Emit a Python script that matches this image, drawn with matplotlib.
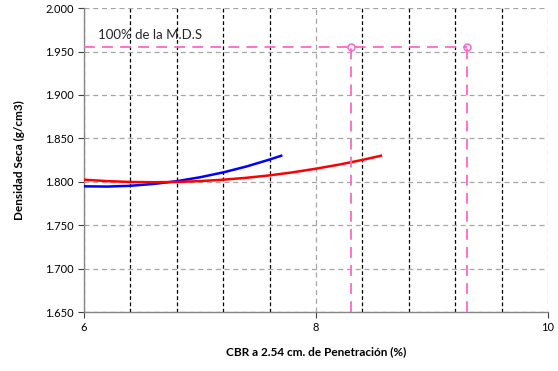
import matplotlib.pyplot as plt
from matplotlib.ticker import MultipleLocator

plt.rcParams['font.family'] = ['Lato', 'DejaVu Sans']

# density vs CBR curves
blue_x = [6.0, 6.2, 6.4, 6.6, 6.8, 7.0, 7.2, 7.4, 7.6, 7.7]
blue_y = [1.7948, 1.7945, 1.7954, 1.7975, 1.8007, 1.8052, 1.8108, 1.8176, 1.8256, 1.8300]
red_x = [6.0, 6.2, 6.4, 6.6, 6.8, 7.0, 7.2, 7.4, 7.6, 7.8, 8.0, 8.2, 8.4, 8.56]
red_y = [1.8024, 1.8008, 1.7998, 1.7995, 1.7998, 1.8008, 1.8024, 1.8046, 1.8074, 1.8109,
         1.8151, 1.8198, 1.8252, 1.8300]

# 100% of max dry density and the CBR values read at it
mds = 1.955
cbr_at_mds = [8.3, 9.3]

fig = plt.figure(figsize=(5.58, 3.71), dpi=100)
ax = fig.add_axes([0.1505, 0.159, 0.8315, 0.819])

ax.set_xlim(6, 10)
ax.set_ylim(1.650, 2.000)
ax.xaxis.set_major_locator(MultipleLocator(2))
ax.xaxis.set_minor_locator(MultipleLocator(0.4))
ax.yaxis.set_major_locator(MultipleLocator(0.05))

ax.grid(True, which='major', axis='both', color='#a6a6a6', linestyle=(0, (4, 3)), linewidth=0.9)
ax.grid(True, which='minor', axis='x', color='black', linestyle=(0, (3, 2)), linewidth=0.9)
ax.set_axisbelow(True)

ax.plot(blue_x, blue_y, color='#0000ff', linewidth=1.8, zorder=3)
ax.plot(red_x, red_y, color='#ff0000', linewidth=1.8, zorder=3)

pink = '#ff66cc'
ax.plot([6, max(cbr_at_mds)], [mds, mds], color=pink, linestyle=(0, (6, 4)), linewidth=1.3, zorder=4)
for c in cbr_at_mds:
    ax.plot([c, c], [1.650, mds], color=pink, linestyle=(0, (6, 4)), linewidth=1.3, zorder=4)
    ax.plot(c, mds, marker='o', markersize=5, markerfacecolor='none',
            markeredgecolor=pink, markeredgewidth=1.1, zorder=5)

ax.text(6.12, 1.964, '100% de la M.D.S', fontsize=9.5, color='#262626')

for side in ['top', 'right']:
    ax.spines[side].set_visible(False)
for side in ['left', 'bottom']:
    ax.spines[side].set_color('#868686')
    ax.spines[side].set_linewidth(1.0)

ax.yaxis.set_major_formatter(plt.FuncFormatter(lambda v, p: f'{v:.3f}'))
ax.tick_params(axis='both', which='major', labelsize=8, colors='#404040', length=4, width=0.8)
ax.tick_params(axis='x', which='minor', length=0)
for lbl in ax.get_xticklabels() + ax.get_yticklabels():
    lbl.set_color('black')

ax.set_xlabel('CBR a 2.54 cm. de Penetración (%)', fontsize=8.5, fontweight='bold', labelpad=9)
ax.set_ylabel('Densidad Seca (g/cm3)', fontsize=8.5, fontweight='bold', labelpad=14)

fig.savefig('out.png', dpi=100)
